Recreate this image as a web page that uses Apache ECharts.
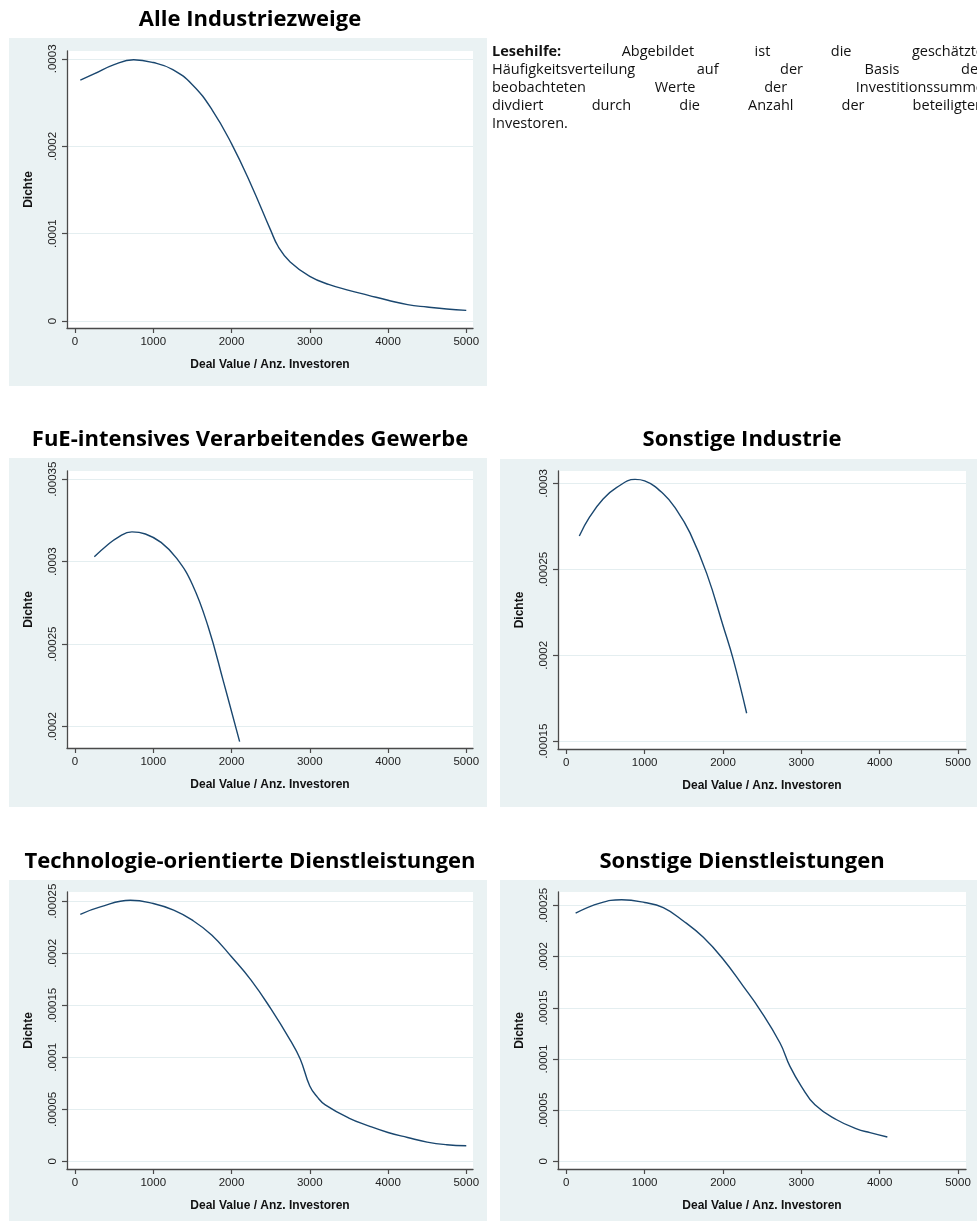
<!DOCTYPE html>
<html>
<head>
<meta charset="utf-8">
<script src="https://cdn.jsdelivr.net/npm/echarts@6/dist/echarts.min.js"></script>
<style>
    html, body { margin: 0; padding: 0; background: #ffffff; }
    #chart { width: 977px; height: 1221px; }
</style>
</head>
<body>
<div id="chart"></div>
<script>
// Werte (Dichteschaetzung)
var alleX = [68, 250, 500, 750, 1000, 1250, 1500, 1750, 2000, 2250, 2500, 2600, 2750, 3000, 3250, 3500, 3750, 4000, 4250, 4500, 4750, 5000];
var alleY = [0.0002756, 0.000283, 0.0002935, 0.000299, 0.0002958, 0.0002878, 0.0002705, 0.000242, 0.000203, 0.000156, 0.000104, 0.0000847, 0.0000676, 0.0000511, 0.0000416, 0.0000351, 0.0000294, 0.0000237, 0.0000187, 0.000016, 0.0000137, 0.0000122];

var fueX = [247, 400, 550, 728, 900, 1100, 1300, 1500, 1700, 1900, 2104];
var fueY = [0.000303, 0.0003095, 0.0003148, 0.0003181, 0.0003168, 0.0003117, 0.000302, 0.0002862, 0.0002608, 0.0002268, 0.0001909];

var sonstIndX = [166, 300, 470, 640, 877, 1000, 1238, 1409, 1579, 1793, 2004, 2132, 2302];
var sonstIndY = [0.0002694, 0.0002806, 0.0002909, 0.0002975, 0.0003023, 0.0003014, 0.000294, 0.0002845, 0.0002712, 0.0002475, 0.0002168, 0.0001975, 0.0001663];

var techX = [68, 324, 707, 1000, 1261, 1500, 1750, 2000, 2250, 2500, 2750, 2878, 3000, 3100, 3198, 3500, 3750, 4000, 4250, 4500, 4750, 5000];
var techY = [0.0002375, 0.0002446, 0.000251, 0.0002478, 0.0002414, 0.0002318, 0.0002174, 0.0001966, 0.0001742, 0.000147, 0.0001166, 0.0000985, 0.0000725, 0.0000615, 0.0000543, 0.0000416, 0.0000342, 0.0000278, 0.000023, 0.0000185, 0.000016, 0.000015];

var sonstDlX = [119, 430, 706, 1000, 1238, 1494, 1749, 2000, 2260, 2472, 2728, 2855, 3000, 3174, 3451, 3706, 3877, 4098];
var sonstDlY = [0.0002425, 0.0002523, 0.0002555, 0.0002529, 0.0002478, 0.0002348, 0.0002188, 0.0001977, 0.0001709, 0.0001481, 0.0001156, 0.0000928, 0.0000734, 0.0000553, 0.0000407, 0.0000318, 0.0000281, 0.0000238];

// Achsenbeschriftungen
var xTicks = [0, 1000, 2000, 3000, 4000, 5000];
var yTicksAlle = [0, 0.0001, 0.0002, 0.0003];
var yTicksFue = [0.0002, 0.00025, 0.0003, 0.00035];
var yTicksSonstInd = [0.00015, 0.0002, 0.00025, 0.0003];
var yTicksDl = [0, 0.00005, 0.0001, 0.00015, 0.0002, 0.00025];

var titles = ["Alle Industriezweige", "FuE-intensives Verarbeitendes Gewerbe", "Sonstige Industrie",
    "Technologie-orientierte Dienstleistungen", "Sonstige Dienstleistungen"];
var xName = "Deal Value / Anz. Investoren";
var yName = "Dichte";

var textLines = [
    [["Lesehilfe:", true], ["Abgebildet"], ["ist"], ["die"], ["geschätzte"]],
    [["Häufigkeitsverteilung"], ["auf"], ["der"], ["Basis"], ["der"]],
    [["beobachteten"], ["Werte"], ["der"], ["Investitionssumme"]],
    [["divdiert"], ["durch"], ["die"], ["Anzahl"], ["der"], ["beteiligten"]],
    [["Investoren."]]
];

var LINE = "#1a476f";
var AXIS = "#4a4a4a";
var PANEL = "#eaf2f3";
var GRIDLINE = "#e4eef0";
var FONT = "'Liberation Sans', Arial, sans-serif";

// Layout der fuenf Teilgrafiken
var panels = [
    { bg: [9, 38, 478, 348], title: [250, 20], grid: [67, 51, 406, 277], x: [-102, 5086], y: [-0.000008, 0.000309], yt: yTicksAlle, xs: alleX, ys: alleY },
    { bg: [9, 458, 478, 349], title: [250, 440], grid: [67, 471, 406, 277], x: [-102, 5086], y: [0.000187, 0.000355], yt: yTicksFue, xs: fueX, ys: fueY },
    { bg: [500, 459, 477, 348], title: [742, 440], grid: [558, 471, 408, 278], x: [-106, 5102], y: [0.0001455, 0.0003072], yt: yTicksSonstInd, xs: sonstIndX, ys: sonstIndY },
    { bg: [9, 880, 478, 341], title: [250, 862], grid: [67, 892, 406, 277], x: [-102, 5086], y: [-0.0000073, 0.0002589], yt: yTicksDl, xs: techX, ys: techY },
    { bg: [500, 880, 477, 341], title: [742, 862], grid: [558, 892, 408, 277], x: [-106, 5102], y: [-0.0000074, 0.0002631], yt: yTicksDl, xs: sonstDlX, ys: sonstDlY }
];

function fmtY(v) {
    if (v === 0) return "0";
    return String(v).replace(/^0\./, ".");
}

function buildText() {
    var els = [];
    var ctx = document.createElement("canvas").getContext("2d");
    var left = 492, right = 984, top = 52, lh = 18;
    for (var l = 0; l < textLines.length; l++) {
        var words = textLines[l];
        var widths = [], sum = 0;
        for (var w = 0; w < words.length; w++) {
            ctx.font = (words[w][1] ? "bold " : "") + "14.5px 'Open Sans'";
            widths.push(ctx.measureText(words[w][0]).width);
            sum += widths[w];
        }
        var gap = words.length > 1 && l < textLines.length - 1 ? (right - left - sum) / (words.length - 1) : 0;
        var x = left;
        for (var w = 0; w < words.length; w++) {
            els.push({
                type: "text", x: x, y: top + l * lh, z: 5,
                style: {
                    text: words[w][0], fill: "#111",
                    font: (words[w][1] ? "bold " : "") + "14.5px 'Open Sans'",
                    textVerticalAlign: "middle", verticalAlign: "middle"
                }
            });
            x += widths[w] + gap;
        }
    }
    return els;
}

function loadChart() {
    var chart = echarts.init(document.getElementById("chart"), null, { renderer: "canvas" });
    var grid = [], xAxis = [], yAxis = [], series = [], graphic = [];
    for (var i = 0; i < panels.length; i++) {
        var p = panels[i];
        graphic.push({ type: "rect", z: -10, shape: { x: p.bg[0], y: p.bg[1], width: p.bg[2], height: p.bg[3] }, style: { fill: PANEL } });
        graphic.push({
            type: "text", x: p.title[0], y: p.title[1], z: 5,
            style: { text: titles[i], font: "bold 22px 'Open Sans'", fill: "#000", textAlign: "center", align: "center", textVerticalAlign: "middle", verticalAlign: "middle" }
        });
        grid.push({ left: p.grid[0], top: p.grid[1], width: p.grid[2], height: p.grid[3], show: true, backgroundColor: "#ffffff", borderWidth: 0 });
        xAxis.push({
            type: "value", gridIndex: i, min: p.x[0], max: p.x[1],
            name: xName, nameLocation: "middle", nameGap: 31,
            nameTextStyle: { fontFamily: FONT, fontWeight: "bold", fontSize: 12, color: "#111" },
            axisLine: { show: true, onZero: false, lineStyle: { color: AXIS, width: 1.3 } },
            axisTick: { show: true, length: 5, customValues: xTicks, lineStyle: { color: AXIS, width: 1.2 } },
            axisLabel: { customValues: xTicks, margin: 8, fontFamily: FONT, fontSize: 11.5, color: "#222", formatter: function (v) { return String(v); } },
            splitLine: { show: false }
        });
        yAxis.push({
            type: "value", gridIndex: i, min: p.y[0], max: p.y[1],
            name: yName, nameLocation: "middle", nameGap: 32, nameRotate: 90,
            nameTextStyle: { fontFamily: FONT, fontWeight: "bold", fontSize: 12, color: "#111" },
            axisLine: { show: true, onZero: false, lineStyle: { color: AXIS, width: 1.3 } },
            axisTick: { show: true, length: 5, customValues: p.yt, lineStyle: { color: AXIS, width: 1.2 } },
            axisLabel: { customValues: p.yt, rotate: 90, margin: 8, fontFamily: FONT, fontSize: 11.5, color: "#222", formatter: fmtY },
            splitLine: { show: true, lineStyle: { color: GRIDLINE, width: 1 } }
        });
        series.push({
            type: "line", xAxisIndex: i, yAxisIndex: i,
            data: p.xs.map(function (x, k) { return [x, p.ys[k]]; }),
            showSymbol: false, smooth: 0.45,
            lineStyle: { color: LINE, width: 1.4 },
            silent: true, animation: false
        });
    }
    graphic = graphic.concat(buildText());
    chart.setOption({
        animation: false,
        backgroundColor: "#ffffff",
        grid: grid, xAxis: xAxis, yAxis: yAxis, series: series,
        graphic: graphic
    });
}
loadChart();
</script>
</body>
</html>
